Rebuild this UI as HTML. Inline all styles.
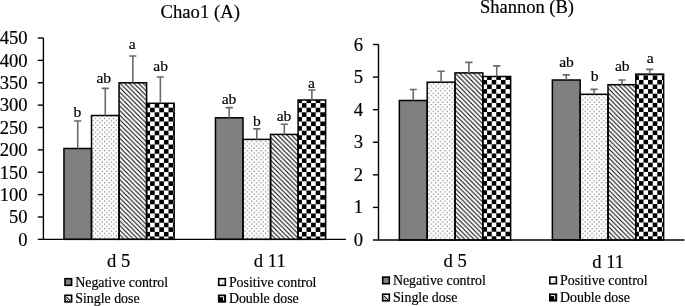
<!DOCTYPE html>
<html><head><meta charset="utf-8"><style>
html,body{margin:0;padding:0;background:#fff;}
svg{display:block;will-change:transform;}
text{font-family:"Liberation Serif", serif;fill:#000;stroke:#000;stroke-width:0.18px;}
.ax{font-size:18.6px;}
.lb{font-size:15.6px;}
.tt{font-size:18.7px;}
.lg{font-size:13.9px;}
</style></head><body>
<svg width="685" height="306" viewBox="0 0 685 306">
<defs>
<pattern id="dots" patternUnits="userSpaceOnUse" width="4.6" height="4.6">
<rect x="0.6" y="0.6" width="1" height="1" fill="#3c3c3c"/><rect x="2.9" y="2.9" width="1" height="1" fill="#3c3c3c"/>
</pattern>
<pattern id="diag" patternUnits="userSpaceOnUse" width="4.6" height="4.6">
<path d="M-4.6 -4.6L9.2 9.2M-4.6 0L4.6 9.2M0 -4.6L9.2 4.6" stroke="#000" stroke-width="1.0"/>
</pattern>
<pattern id="chkL" patternUnits="userSpaceOnUse" x="297.3" y="98.5" width="9.2" height="9.2">
<rect x="0" y="0" width="4.6" height="4.6" fill="#000"/><rect x="4.6" y="4.6" width="4.6" height="4.6" fill="#000"/>
</pattern>
<pattern id="chkR" patternUnits="userSpaceOnUse" x="477.9" y="75.3" width="9.2" height="9.2">
<rect x="0" y="0" width="4.6" height="4.6" fill="#000"/><rect x="4.6" y="4.6" width="4.6" height="4.6" fill="#000"/>
</pattern>
<pattern id="dotsS" patternUnits="userSpaceOnUse" width="4" height="4">
<rect x="1.5" y="1.5" width="1" height="1" fill="#666"/>
</pattern>
</defs>
<rect width="685" height="306" fill="#fff"/>
<rect x="63.96" y="148.50" width="27.55" height="90.85" fill="#808080" stroke="#000" stroke-width="1.5"/>
<rect x="91.50" y="115.50" width="27.55" height="123.85" fill="url(#dots)" stroke="#000" stroke-width="1.5"/>
<rect x="119.05" y="82.80" width="27.55" height="156.55" fill="url(#diag)" stroke="#000" stroke-width="1.5"/>
<rect x="146.60" y="103.30" width="27.55" height="136.05" fill="url(#chkL)" stroke="#000" stroke-width="1.5"/>
<rect x="215.46" y="117.80" width="27.55" height="121.55" fill="#808080" stroke="#000" stroke-width="1.5"/>
<rect x="243.00" y="139.40" width="27.55" height="99.95" fill="url(#dots)" stroke="#000" stroke-width="1.5"/>
<rect x="270.55" y="134.40" width="27.55" height="104.95" fill="url(#diag)" stroke="#000" stroke-width="1.5"/>
<rect x="298.10" y="100.00" width="27.55" height="139.35" fill="url(#chkL)" stroke="#000" stroke-width="1.5"/>
<path d="M77.73 148.50V121.00M74.13 121.00H81.33" stroke="#6a6a6a" stroke-width="1.6" fill="none"/>
<path d="M105.28 115.50V88.40M101.68 88.40H108.88" stroke="#6a6a6a" stroke-width="1.6" fill="none"/>
<path d="M132.82 82.80V56.00M129.22 56.00H136.42" stroke="#6a6a6a" stroke-width="1.6" fill="none"/>
<path d="M160.37 103.30V77.00M156.77 77.00H163.97" stroke="#6a6a6a" stroke-width="1.6" fill="none"/>
<path d="M229.23 117.80V107.60M225.63 107.60H232.83" stroke="#6a6a6a" stroke-width="1.6" fill="none"/>
<path d="M256.78 139.40V128.90M253.18 128.90H260.38" stroke="#6a6a6a" stroke-width="1.6" fill="none"/>
<path d="M284.32 134.40V124.20M280.72 124.20H287.92" stroke="#6a6a6a" stroke-width="1.6" fill="none"/>
<path d="M311.87 100.00V90.00M308.27 90.00H315.47" stroke="#6a6a6a" stroke-width="1.6" fill="none"/>
<path d="M43.4 38V239.35H346" stroke="#000" stroke-width="1.4" fill="none"/>
<path d="M37.8 239.35H43.4" stroke="#000" stroke-width="1.4"/>
<text x="27.6" y="245.65" text-anchor="end" class="ax">0</text>
<path d="M37.8 216.98H43.4" stroke="#000" stroke-width="1.4"/>
<text x="27.6" y="223.28" text-anchor="end" class="ax">50</text>
<path d="M37.8 194.61H43.4" stroke="#000" stroke-width="1.4"/>
<text x="27.6" y="200.91" text-anchor="end" class="ax">100</text>
<path d="M37.8 172.23H43.4" stroke="#000" stroke-width="1.4"/>
<text x="27.6" y="178.53" text-anchor="end" class="ax">150</text>
<path d="M37.8 149.86H43.4" stroke="#000" stroke-width="1.4"/>
<text x="27.6" y="156.16" text-anchor="end" class="ax">200</text>
<path d="M37.8 127.49H43.4" stroke="#000" stroke-width="1.4"/>
<text x="27.6" y="133.79" text-anchor="end" class="ax">250</text>
<path d="M37.8 105.12H43.4" stroke="#000" stroke-width="1.4"/>
<text x="27.6" y="111.42" text-anchor="end" class="ax">300</text>
<path d="M37.8 82.74H43.4" stroke="#000" stroke-width="1.4"/>
<text x="27.6" y="89.04" text-anchor="end" class="ax">350</text>
<path d="M37.8 60.37H43.4" stroke="#000" stroke-width="1.4"/>
<text x="27.6" y="66.67" text-anchor="end" class="ax">400</text>
<path d="M37.8 38.00H43.4" stroke="#000" stroke-width="1.4"/>
<text x="27.6" y="44.30" text-anchor="end" class="ax">450</text>
<text x="77.3" y="116.6" text-anchor="middle" class="lb">b</text>
<text x="103.8" y="82.5" text-anchor="middle" class="lb">ab</text>
<text x="132.3" y="49.2" text-anchor="middle" class="lb">a</text>
<text x="160.7" y="71.2" text-anchor="middle" class="lb">ab</text>
<text x="229" y="104.2" text-anchor="middle" class="lb">ab</text>
<text x="256.9" y="125.8" text-anchor="middle" class="lb">b</text>
<text x="284" y="121.2" text-anchor="middle" class="lb">ab</text>
<text x="311.4" y="88.3" text-anchor="middle" class="lb">a</text>
<rect x="399.36" y="100.50" width="27.82" height="139.50" fill="#808080" stroke="#000" stroke-width="1.5"/>
<rect x="427.18" y="82.20" width="27.82" height="157.80" fill="url(#dots)" stroke="#000" stroke-width="1.5"/>
<rect x="455.00" y="72.90" width="27.82" height="167.10" fill="url(#diag)" stroke="#000" stroke-width="1.5"/>
<rect x="482.82" y="76.50" width="27.82" height="163.50" fill="url(#chkR)" stroke="#000" stroke-width="1.5"/>
<rect x="552.36" y="80.00" width="27.82" height="160.00" fill="#808080" stroke="#000" stroke-width="1.5"/>
<rect x="580.18" y="94.30" width="27.82" height="145.70" fill="url(#dots)" stroke="#000" stroke-width="1.5"/>
<rect x="608.00" y="84.70" width="27.82" height="155.30" fill="url(#diag)" stroke="#000" stroke-width="1.5"/>
<rect x="635.82" y="74.10" width="27.82" height="165.90" fill="url(#chkR)" stroke="#000" stroke-width="1.5"/>
<path d="M413.27 100.50V89.50M409.67 89.50H416.87" stroke="#6a6a6a" stroke-width="1.6" fill="none"/>
<path d="M441.09 82.20V71.30M437.49 71.30H444.69" stroke="#6a6a6a" stroke-width="1.6" fill="none"/>
<path d="M468.91 72.90V62.40M465.31 62.40H472.51" stroke="#6a6a6a" stroke-width="1.6" fill="none"/>
<path d="M496.73 76.50V65.90M493.13 65.90H500.33" stroke="#6a6a6a" stroke-width="1.6" fill="none"/>
<path d="M566.27 80.00V74.90M562.67 74.90H569.87" stroke="#6a6a6a" stroke-width="1.6" fill="none"/>
<path d="M594.09 94.30V89.40M590.49 89.40H597.69" stroke="#6a6a6a" stroke-width="1.6" fill="none"/>
<path d="M621.91 84.70V80.00M618.31 80.00H625.51" stroke="#6a6a6a" stroke-width="1.6" fill="none"/>
<path d="M649.73 74.10V69.40M646.13 69.40H653.33" stroke="#6a6a6a" stroke-width="1.6" fill="none"/>
<path d="M378.5 44.5V240.0H684.5" stroke="#000" stroke-width="1.4" fill="none"/>
<path d="M372.9 240.00H378.5" stroke="#000" stroke-width="1.4"/>
<text x="363" y="246.00" text-anchor="end" class="ax">0</text>
<path d="M372.9 207.42H378.5" stroke="#000" stroke-width="1.4"/>
<text x="363" y="213.42" text-anchor="end" class="ax">1</text>
<path d="M372.9 174.83H378.5" stroke="#000" stroke-width="1.4"/>
<text x="363" y="180.83" text-anchor="end" class="ax">2</text>
<path d="M372.9 142.25H378.5" stroke="#000" stroke-width="1.4"/>
<text x="363" y="148.25" text-anchor="end" class="ax">3</text>
<path d="M372.9 109.67H378.5" stroke="#000" stroke-width="1.4"/>
<text x="363" y="115.67" text-anchor="end" class="ax">4</text>
<path d="M372.9 77.08H378.5" stroke="#000" stroke-width="1.4"/>
<text x="363" y="83.08" text-anchor="end" class="ax">5</text>
<path d="M372.9 44.50H378.5" stroke="#000" stroke-width="1.4"/>
<text x="363" y="50.50" text-anchor="end" class="ax">6</text>
<text x="566.5" y="66.5" text-anchor="middle" class="lb">ab</text>
<text x="594.6" y="81.2" text-anchor="middle" class="lb">b</text>
<text x="622.3" y="71.4" text-anchor="middle" class="lb">ab</text>
<text x="650.2" y="62.5" text-anchor="middle" class="lb">a</text>
<text x="200.2" y="17.8" text-anchor="middle" class="tt">Chao1 (A)</text>
<text x="526.9" y="12.9" text-anchor="middle" class="tt" style="font-size:18.5px">Shannon (B)</text>
<text x="118.6" y="266.9" text-anchor="middle" class="ax">d 5</text>
<text x="269.8" y="266.8" text-anchor="middle" class="ax">d 11</text>
<text x="455.1" y="267.4" text-anchor="middle" class="ax">d 5</text>
<text x="608.2" y="267.6" text-anchor="middle" class="ax">d 11</text>
<rect x="65.0" y="278.7" width="6.6" height="6.6" fill="#808080" stroke="#000" stroke-width="1.6"/>
<text x="75.2" y="286.8" class="lg">Negative control</text>
<rect x="218.70000000000002" y="278.7" width="6.6" height="6.6" fill="#fff" stroke="#000" stroke-width="1.6"/>
<rect x="222.20000000000002" y="282.2" width="1.1" height="1.1" fill="#777"/><rect x="220.0" y="280.0" width="1" height="1" fill="#ccc"/>
<text x="228.9" y="286.8" class="lg">Positive control</text>
<rect x="65.0" y="295.3" width="6.6" height="6.6" fill="#fff" stroke="#000" stroke-width="1.6"/>
<path d="M65.8 298.9L68.0 301.1" stroke="#555" stroke-width="1"/><path d="M66.4 296.9L70.4 300.9" stroke="#111" stroke-width="1.1"/>
<text x="75.2" y="303.2" class="lg">Single dose</text>
<rect x="218.70000000000002" y="295.3" width="6.6" height="6.6" fill="#000" stroke="#000" stroke-width="1.6"/>
<path d="M219.70000000000002 296.7H223.6V300.5" stroke="#fff" stroke-width="1" fill="none"/>
<text x="228.9" y="303.2" class="lg">Double dose</text>
<rect x="382.7" y="277.1" width="6.6" height="6.6" fill="#808080" stroke="#000" stroke-width="1.6"/>
<text x="392.9" y="285.4" class="lg">Negative control</text>
<rect x="549.8" y="277.1" width="6.6" height="6.6" fill="#fff" stroke="#000" stroke-width="1.6"/>
<rect x="553.3" y="280.6" width="1.1" height="1.1" fill="#777"/><rect x="551.1" y="278.40000000000003" width="1" height="1" fill="#ccc"/>
<text x="560.0" y="285.4" class="lg">Positive control</text>
<rect x="382.7" y="294.2" width="6.6" height="6.6" fill="#fff" stroke="#000" stroke-width="1.6"/>
<path d="M383.5 297.79999999999995L385.7 300.0" stroke="#555" stroke-width="1"/><path d="M384.09999999999997 295.79999999999995L388.09999999999997 299.79999999999995" stroke="#111" stroke-width="1.1"/>
<text x="392.9" y="302.3" class="lg">Single dose</text>
<rect x="549.8" y="294.2" width="6.6" height="6.6" fill="#000" stroke="#000" stroke-width="1.6"/>
<path d="M550.8 295.59999999999997H554.7V299.4" stroke="#fff" stroke-width="1" fill="none"/>
<text x="560.0" y="302.3" class="lg">Double dose</text>
</svg>
</body></html>
